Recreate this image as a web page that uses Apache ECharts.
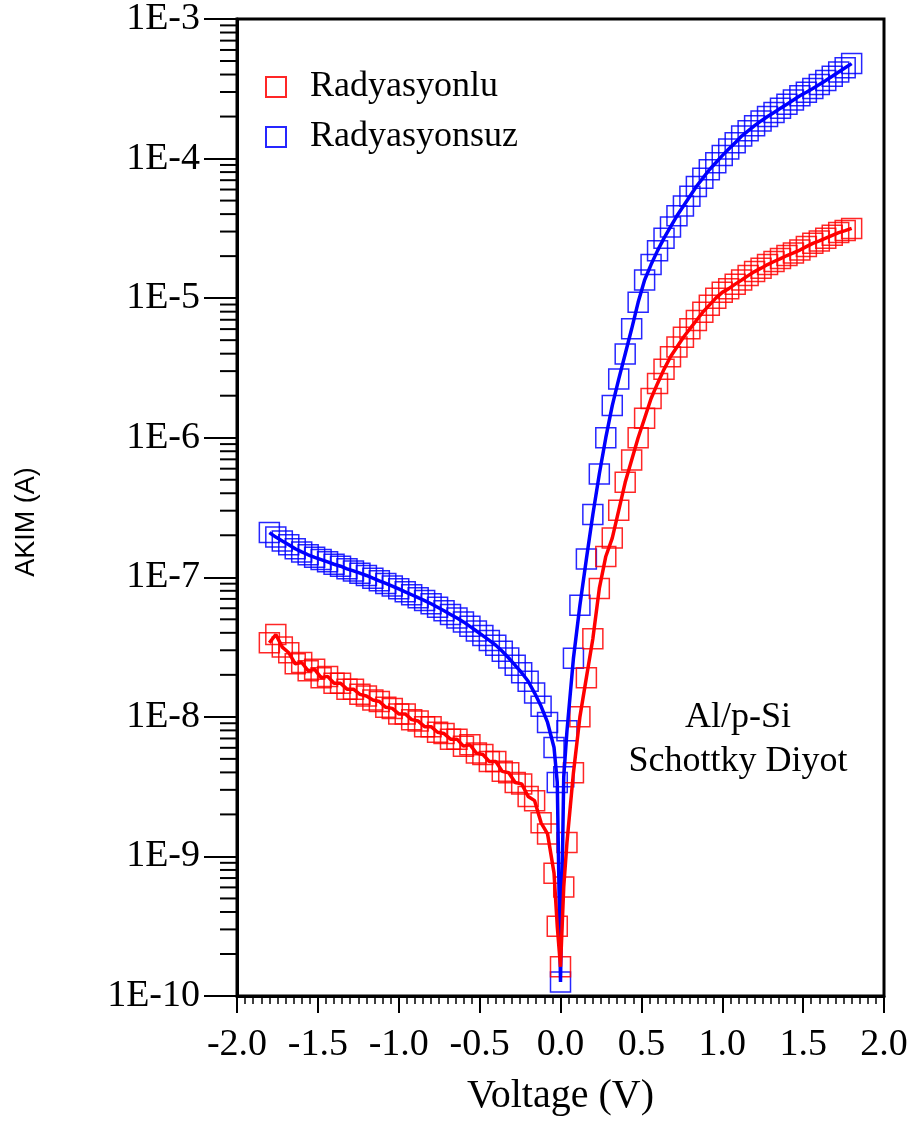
<!DOCTYPE html>
<html><head><meta charset="utf-8">
<script src="https://cdn.jsdelivr.net/npm/echarts@6/dist/echarts.min.js"></script>
<style>html,body{margin:0;padding:0;background:#fff}#c{width:915px;height:1122px}</style>
</head><body><div id="c"></div>
<script>
// Voltage (V)
const voltage = [-1.80,-1.76,-1.72,-1.68,-1.64,-1.60,-1.56,-1.52,-1.48,-1.44,-1.40,-1.36,-1.32,-1.28,-1.24,-1.20,-1.16,-1.12,-1.08,-1.04,-1.00,-0.96,-0.92,-0.88,-0.84,-0.80,-0.76,-0.72,-0.68,-0.64,-0.60,-0.56,-0.52,-0.48,-0.44,-0.40,-0.36,-0.32,-0.28,-0.24,-0.20,-0.16,-0.12,-0.08,-0.04,-0.02,0.00,0.02,0.04,0.08,0.12,0.16,0.20,0.24,0.28,0.32,0.36,0.40,0.44,0.48,0.52,0.56,0.60,0.64,0.68,0.72,0.76,0.80,0.84,0.88,0.92,0.96,1.00,1.04,1.08,1.12,1.16,1.20,1.24,1.28,1.32,1.36,1.40,1.44,1.48,1.52,1.56,1.60,1.64,1.68,1.72,1.76,1.80];
// Current (A) - Radyasyonlu (red)
const currentRadyasyonlu = [3.39e-8,3.89e-8,3.16e-8,2.88e-8,2.40e-8,2.45e-8,2.14e-8,2.19e-8,1.91e-8,1.95e-8,1.74e-8,1.74e-8,1.58e-8,1.58e-8,1.45e-8,1.41e-8,1.32e-8,1.29e-8,1.17e-8,1.15e-8,1.05e-8,1.05e-8,9.55e-9,9.33e-9,8.51e-9,8.51e-9,7.76e-9,7.59e-9,6.92e-9,6.92e-9,6.17e-9,6.31e-9,5.50e-9,5.37e-9,4.79e-9,4.79e-9,4.07e-9,3.98e-9,3.39e-9,3.31e-9,2.69e-9,2.51e-9,1.74e-9,1.45e-9,7.59e-10,3.16e-10,1.62e-10,6.03e-10,1.26e-9,3.98e-9,1.00e-8,1.91e-8,3.63e-8,8.32e-8,1.41e-7,1.91e-7,3.02e-7,4.79e-7,6.92e-7,1.00e-6,1.38e-6,1.91e-6,2.45e-6,3.09e-6,3.80e-6,4.47e-6,5.25e-6,6.03e-6,6.92e-6,7.94e-6,8.91e-6,1.00e-5,1.10e-5,1.17e-5,1.26e-5,1.35e-5,1.45e-5,1.55e-5,1.64e-5,1.74e-5,1.83e-5,1.92e-5,2.02e-5,2.11e-5,2.21e-5,2.34e-5,2.47e-5,2.57e-5,2.69e-5,2.82e-5,2.95e-5,3.05e-5,3.16e-5];
// Current (A) - Radyasyonsuz (blue)
const currentRadyasyonsuz = [2.09e-7,1.94e-7,1.82e-7,1.71e-7,1.60e-7,1.52e-7,1.45e-7,1.39e-7,1.34e-7,1.29e-7,1.24e-7,1.20e-7,1.15e-7,1.11e-7,1.07e-7,1.03e-7,9.86e-8,9.44e-8,9.04e-8,8.65e-8,8.26e-8,7.87e-8,7.50e-8,7.14e-8,6.81e-8,6.46e-8,6.10e-8,5.75e-8,5.42e-8,5.11e-8,4.79e-8,4.45e-8,4.12e-8,3.82e-8,3.53e-8,3.26e-8,2.95e-8,2.64e-8,2.34e-8,2.07e-8,1.80e-8,1.48e-8,1.19e-8,9.12e-9,6.03e-9,3.39e-9,1.26e-10,3.72e-9,7.94e-9,2.63e-8,6.31e-8,1.35e-7,2.82e-7,5.50e-7,1.00e-6,1.70e-6,2.63e-6,3.98e-6,6.03e-6,9.33e-6,1.35e-5,1.74e-5,2.19e-5,2.69e-5,3.24e-5,3.89e-5,4.57e-5,5.37e-5,6.31e-5,7.24e-5,8.32e-5,9.33e-5,1.05e-4,1.17e-4,1.30e-4,1.45e-4,1.58e-4,1.72e-4,1.86e-4,2.00e-4,2.14e-4,2.29e-4,2.45e-4,2.63e-4,2.82e-4,2.99e-4,3.18e-4,3.39e-4,3.63e-4,3.89e-4,4.17e-4,4.47e-4,4.79e-4];
// Tick labels
const xTickLabels = ['-2.0','-1.5','-1.0','-0.5','0.0','0.5','1.0','1.5','2.0'];
const yTickLabels = ['1E-10','1E-9','1E-8','1E-7','1E-6','1E-5','1E-4','1E-3'];
const yDecades = [1e-10,1e-9,1e-8,1e-7,1e-6,1e-5,1e-4];
const minorMantissa = [2,3,4,5,6,7,8,9];

const redData = voltage.map((v,i)=>[v,currentRadyasyonlu[i]]);
const blueData = voltage.map((v,i)=>[v,currentRadyasyonsuz[i]]);
const minorTicks = [];
yDecades.forEach(d=>minorMantissa.forEach(m=>minorTicks.push([-2, m*d])));

const SERIF = 'Liberation Serif';
const chart = echarts.init(document.getElementById('c'), null, {renderer:'canvas'});
chart.setOption({
  animation:false,
  backgroundColor:'#fff',
  grid:{left:237,right:31,top:19,bottom:126,show:true,borderColor:'#000',borderWidth:3,backgroundColor:'transparent'},
  legend:{
    data:['Radyasyonlu','Radyasyonsuz'],
    orient:'vertical', left:260, top:64, itemWidth:20, itemHeight:20, itemGap:14,
    textStyle:{fontFamily:SERIF,fontSize:36,color:'#000',lineHeight:36,padding:[0,0,0,19]}
  },
  xAxis:{
    type:'value', min:-2, max:2, interval:0.5,
    axisLine:{onZero:false,lineStyle:{color:'#000',width:3}},
    axisTick:{length:17,lineStyle:{color:'#000',width:2}},
    minorTick:{show:true,splitNumber:10,length:8,lineStyle:{color:'#000',width:1.5}},
    splitLine:{show:false},
    axisLabel:{fontFamily:SERIF,fontSize:38,color:'#000',margin:30,
      formatter:v=>xTickLabels[Math.round((v+2)/0.5)]},
    name:'Voltage (V)', nameLocation:'middle', nameGap:80,
    nameTextStyle:{fontFamily:SERIF,fontSize:40,color:'#000'}
  },
  yAxis:{
    type:'log', logBase:10, min:1e-10, max:1e-3, splitNumber:7,
    axisLine:{onZero:false,lineStyle:{color:'#000',width:3}},
    axisTick:{length:33,lineStyle:{color:'#000',width:2}},
    splitLine:{show:false},
    axisLabel:{fontFamily:SERIF,fontSize:38,color:'#000',margin:37,
      formatter:v=>yTickLabels[Math.round(Math.log10(v))+10]}
  },
  graphic:[
    {type:'text',x:27,y:522,rotation:Math.PI/2,style:{text:'AKIM (A)',fontFamily:'Liberation Sans',fontSize:27,fill:'#000',align:'center',verticalAlign:'middle'}},
    {type:'text',x:738,y:718,style:{text:'Al/p-Si',fontFamily:SERIF,fontSize:36,fill:'#000',align:'center',verticalAlign:'middle'}},
    {type:'text',x:738,y:762,style:{text:'Schottky Diyot',fontFamily:SERIF,fontSize:36,fill:'#000',align:'center',verticalAlign:'middle'}}
  ],
  series:[
    {name:'minorY',type:'custom',silent:true,clip:false,data:minorTicks,encode:{x:0,y:1},
      renderItem:(params,api)=>{const p=api.coord([api.value(0),api.value(1)]);
        return {type:'line',shape:{x1:p[0]-17,y1:p[1],x2:p[0],y2:p[1]},style:{stroke:'#000',lineWidth:2}};}},
    {name:'Radyasyonsuz',type:'scatter',data:blueData,symbol:'rect',symbolSize:20,
      itemStyle:{color:'rgba(0,0,0,0)',borderColor:'#0000ff',borderWidth:1.5,opacity:0.85}},
    {name:'Radyasyonlu',type:'scatter',data:redData,symbol:'rect',symbolSize:20,
      itemStyle:{color:'rgba(0,0,0,0)',borderColor:'#ff0000',borderWidth:1.5,opacity:0.85}},
    {name:'fitBlue',type:'line',data:blueData,showSymbol:false,silent:true,
      lineStyle:{color:'#0000ff',width:3.5}},
    {name:'fitRed',type:'line',data:redData,showSymbol:false,silent:true,
      lineStyle:{color:'#ff0000',width:3.5}}
  ]
});
</script>
</body></html>
